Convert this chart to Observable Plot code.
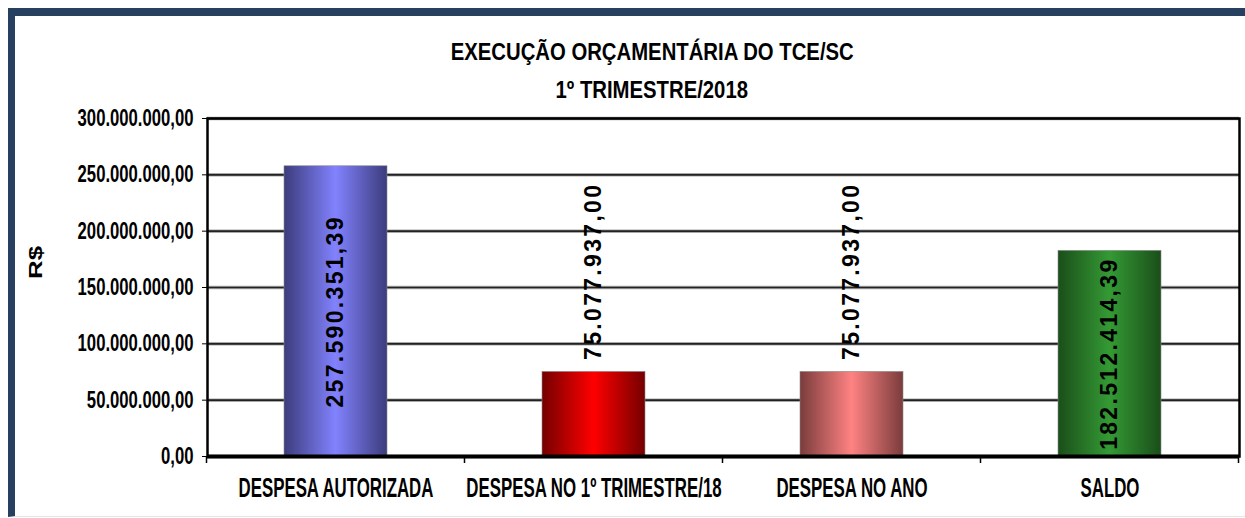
<!DOCTYPE html>
<html><head><meta charset="utf-8">
<script src="https://cdn.jsdelivr.net/npm/d3@7"></script>
<script src="https://cdn.jsdelivr.net/npm/@observablehq/plot@0.6"></script>
<style>
html,body{margin:0;padding:0;background:#fff}
body{width:1245px;height:518px;position:relative;overflow:hidden}
#chart{position:absolute;left:0;top:0}
#frame{position:absolute;left:8px;top:8px;width:1400px;height:509px;box-sizing:border-box;border-left:7px solid #28405f;border-top:8px solid #28405f;border-bottom:1px solid #e6e6e6;pointer-events:none}
#title{position:absolute;left:0;width:1304px;top:33px;text-align:center;font-family:"Liberation Sans",Arial,sans-serif;font-weight:bold;font-size:24px;line-height:38px;color:#000;white-space:nowrap}
#title span{display:inline-block;transform-origin:50% 50%}
</style></head><body>
<div id="chart"></div>
<div id="title"><span id="t1"></span><br><span id="t2"></span></div>
<div id="frame"></div>
<script>
// ---- data ----
const titleLines = ["EXECUÇÃO ORÇAMENTÁRIA DO TCE/SC", "1º TRIMESTRE/2018"];
const yAxisTitle = "R$";
const categories = ["DESPESA AUTORIZADA", "DESPESA NO 1º TRIMESTRE/18", "DESPESA NO ANO", "SALDO"];
const values = [257590351.39, 75077937.00, 75077937.00, 182512414.39];
const yTicks = [0, 50000000, 100000000, 150000000, 200000000, 250000000, 300000000];

// ---- styles ----
const barGradients = [["#3c3c7c", "#8282ff"], ["#740000", "#ff0000"], ["#7a3c3c", "#ff8282"], ["#1a4e1a", "#349a34"]];
const FONT = '"Liberation Sans",Arial,sans-serif';

const loc = d3.formatLocale({decimal: ",", thousands: ".", grouping: [3], currency: ["R$", ""]});
const fmt = loc.format(",.2f");

const data = categories.map((c, i) => ({cat: c, value: values[i], i}));
const yMax = d3.max(yTicks);
const inside = data.filter(d => d.value >= yMax / 2);
const above = data.filter(d => d.value < yMax / 2);

function gradientDefs() {
  const defs = d3.create("svg:defs");
  barGradients.forEach(([edge, center], i) => {
    const lg = defs.append("linearGradient").attr("id", "barg" + i)
      .attr("x1", 0).attr("x2", 1).attr("y1", 0).attr("y2", 0);
    lg.append("stop").attr("offset", "0%").attr("stop-color", edge);
    lg.append("stop").attr("offset", "50%").attr("stop-color", center);
    lg.append("stop").attr("offset", "100%").attr("stop-color", edge);
  });
  return defs.node();
}

function boundaryTicks(index, scales, vals, dims) {
  const x = scales.x, y = scales.y;
  let pos;
  if (x && x.step && x.bandwidth) {
    const off = (x.step() - x.bandwidth()) / 2;
    pos = categories.map(c => x(c) - off);
    pos.push(pos[pos.length - 1] + x.step());
  } else {
    const w = dims.width - dims.marginLeft - dims.marginRight;
    pos = d3.range(categories.length + 1).map(k => dims.marginLeft + k * w / categories.length);
  }
  const y0 = y(0);
  const g = d3.create("svg:g").attr("stroke", "#000").attr("stroke-width", 1.5);
  g.selectAll("line").data(pos).join("line")
    .attr("x1", d => d).attr("x2", d => d).attr("y1", y0).attr("y2", y0 + 7);
  return g.node();
}

const chart = Plot.plot({
  width: 1245, height: 518,
  marginTop: 118, marginLeft: 207, marginRight: 6, marginBottom: 62,
  style: {background: "transparent", color: "#000"},
  x: {domain: categories, paddingInner: 0.6, paddingOuter: 0.3, axis: null},
  y: {domain: [0, yMax], axis: null},
  marks: [
    gradientDefs,
    Plot.ruleY(yTicks, {stroke: "#a8a8a8", strokeWidth: 3.5}),
    Plot.ruleY(yTicks, {stroke: "#222", strokeWidth: 1.6}),
    ...data.map(d => Plot.barY([d], {x: "cat", y: "value", fill: `url(#barg${d.i})`, stroke: "#8a8a8a", strokeWidth: 0.6})),
    Plot.frame({stroke: "#000", strokeWidth: 2.5}),
    Plot.ruleY([0], {stroke: "#000", strokeWidth: 4}),
    boundaryTicks,
    Plot.axisY({ticks: yTicks, tickFormat: fmt, tickSize: 5, tickPadding: 9, fontSize: 23, fontWeight: "bold", fontFamily: FONT, label: null}),
    Plot.axisX({tickSize: 0, tickPadding: 21, fontSize: 28, fontWeight: "bold", fontFamily: FONT, label: null}),
    Plot.text(inside, {x: "cat", y: d => d.value / 2, text: d => fmt(d.value), rotate: -90, textAnchor: "middle",
      fontSize: 23, fontWeight: "bold", fontFamily: FONT, fill: "#000"}),
    Plot.text(above, {x: "cat", y: "value", text: d => fmt(d.value), rotate: -90, textAnchor: "start", dy: -12,
      fontSize: 23, fontWeight: "bold", fontFamily: FONT, fill: "#000"}),
    Plot.text([yAxisTitle], {frameAnchor: "left", dx: -172, dy: -25, rotate: -90, textAnchor: "middle",
      fontSize: 19, fontWeight: "bold", fontFamily: FONT, fill: "#000"})
  ]
});
document.getElementById("chart").append(chart);

// condense / stretch text groups along their baseline to mimic the source rendering
function pick(selector, filter) {
  return Array.from(chart.querySelectorAll(selector)).filter(n => !filter || filter(n.textContent));
}
function squeeze(nodes, refText, target) {
  if (!nodes.length) return;
  const ref = nodes.find(n => n.textContent === refText) || nodes[0];
  const k = target / ref.getComputedTextLength();
  nodes.forEach(n => {
    const t = n.getAttribute("transform") || "";
    n.setAttribute("transform", `${t} scale(${k.toFixed(4)},1)`);
  });
}
function spread(nodes, refText, target) {
  if (!nodes.length) return;
  const ref = nodes.find(n => n.textContent === refText) || nodes[0];
  const ls = (target - ref.getComputedTextLength()) / (ref.textContent.length - 1);
  nodes.forEach(n => n.setAttribute("letter-spacing", ls.toFixed(2)));
}
const valueTexts = new Set(values.map(fmt));
squeeze(pick('g[aria-label="y-axis tick label"] text'), "300.000.000,00", 116);
squeeze(pick('g[aria-label="x-axis tick label"] text'), categories[0], 195);
spread(pick('g[aria-label="text"] text', s => valueTexts.has(s)), fmt(values[0]), 190);
squeeze(pick('g[aria-label="text"] text', s => s === yAxisTitle), yAxisTitle, 33);

const t1 = document.getElementById("t1"), t2 = document.getElementById("t2");
t1.textContent = titleLines[0];
t2.textContent = titleLines[1];
const kt = 403 / t1.getBoundingClientRect().width;
t1.style.transform = `scaleX(${kt})`;
t2.style.transform = `scaleX(${kt})`;
</script>
</body></html>
